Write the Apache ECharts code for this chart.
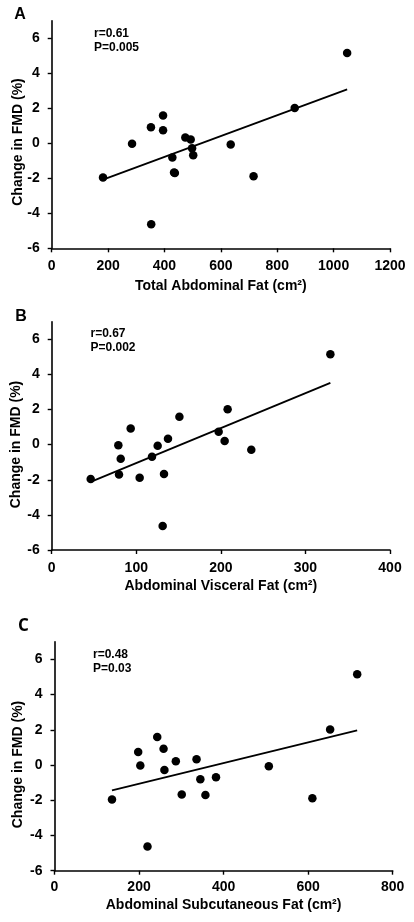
<!DOCTYPE html>
<html>
<head>
<meta charset="utf-8">
<script src="https://cdn.jsdelivr.net/npm/echarts@6/dist/echarts.min.js"></script>
<style>
html,body{margin:0;padding:0;background:#fff;}
#chart{width:414px;height:922px;}
</style>
</head>
<body>
<div id="chart"></div>
<script>
// Change in FMD (%) per subject (same subjects in all three panels)
const fmdChange = [5.15, 2.02, 1.59, 0.92, 0.74, 0.33, 0.21, -0.03, -0.07, -0.29, -0.69, -0.81, -1.70, -1.67, -1.89, -1.96, -4.63];
// Panel A: Total abdominal fat (cm2)
const totalFat = [1048, 862, 395, 352, 395, 474, 493, 285, 635, 498, 502, 428, 437, 434, 716, 182, 353];
// Panel B: Abdominal visceral fat (cm2)
const visceralFat = [329.5, 208, 151, 93.4, 197.4, 137.5, 204.5, 78.8, 125.3, 236, 118.6, 81.6, 79.6, 132.8, 104, 46.1, 131.2];
// Panel C: Abdominal subcutaneous fat (cm2)
const subcutFat = [716, 652, 243, 258, 198, 336, 287, 203, 507, 260, 382, 345, 357, 301, 610, 136, 220];

// Fitted regression line end points
const trendAx = [182, 1048], trendAy = [-2.08, 3.08];
const trendBx = [46.1, 329.5], trendBy = [-2.12, 3.52];
const trendCx = [136, 716], trendCy = [-1.44, 1.97];

const yTicks = [-6, -4, -2, 0, 2, 4, 6];
const xTicksA = [0, 200, 400, 600, 800, 1000, 1200];
const xTicksB = [0, 100, 200, 300, 400];
const xTicksC = [0, 200, 400, 600, 800];

const panelLabels = ['A', 'B', 'C'];
const statsText = [['r=0.61', 'P=0.005'], ['r=0.67', 'P=0.002'], ['r=0.48', 'P=0.03']];
const xTitles = ['Total Abdominal Fat (cm²)', 'Abdominal Visceral Fat (cm²)', 'Abdominal Subcutaneous Fat (cm²)'];
const yTitle = 'Change in FMD (%)';

const FONT = "'Liberation Sans', Arial, sans-serif";
const BLACK = '#000';

function pairs(xs, ys) { return xs.map((x, i) => [x, ys[i]]); }
const plain = v => String(v);

const grids = [
  {left: 51.7, top: 20.7, width: 338.3, height: 227.6},
  {left: 51.7, top: 321.7, width: 338.3, height: 228.3},
  {left: 54.5, top: 641.7, width: 338.2, height: 229}
];
const xCfg = [
  {max: 1200, interval: 200, ticks: xTicksA, nameGap: 30.5, margin: 11},
  {max: 400, interval: 100, ticks: xTicksB, nameGap: 29, margin: 11},
  {max: 800, interval: 200, ticks: xTicksC, nameGap: 27.5, margin: 9}
];

const xAxis = xCfg.map((c, i) => ({
  gridIndex: i, type: 'value', min: 0, max: c.max, interval: c.interval,
  name: xTitles[i], nameLocation: 'middle', nameGap: c.nameGap,
  nameTextStyle: {fontFamily: FONT, fontWeight: 'bold', fontSize: 14, color: BLACK},
  axisLine: {show: true, onZero: false, lineStyle: {color: BLACK, width: 1.6}},
  axisTick: {show: true, length: 4, lineStyle: {color: BLACK, width: 1.4}, customValues: c.ticks},
  axisLabel: {fontFamily: FONT, fontWeight: 'bold', fontSize: 14, color: BLACK, margin: c.margin, customValues: c.ticks, formatter: plain},
  splitLine: {show: false}
}));

const yAxis = [0, 1, 2].map(i => ({
  gridIndex: i, type: 'value', min: -6, max: 7, interval: 2,
  axisLine: {show: true, onZero: false, lineStyle: {color: BLACK, width: 1.6}},
  axisTick: {show: true, length: 4, lineStyle: {color: BLACK, width: 1.4}, customValues: yTicks},
  axisLabel: {fontFamily: FONT, fontWeight: 'bold', fontSize: 14, color: BLACK, margin: 12, customValues: yTicks, formatter: plain},
  splitLine: {show: false}
}));

const xData = [totalFat, visceralFat, subcutFat];
const trends = [[trendAx, trendAy], [trendBx, trendBy], [trendCx, trendCy]];
const series = [];
for (let i = 0; i < 3; i++) {
  series.push({
    type: 'line', xAxisIndex: i, yAxisIndex: i, data: pairs(trends[i][0], trends[i][1]),
    symbol: 'none', lineStyle: {color: BLACK, width: 1.8}, silent: true, z: 2
  });
  series.push({
    type: 'scatter', xAxisIndex: i, yAxisIndex: i, data: pairs(xData[i], fmdChange),
    symbol: 'circle', symbolSize: 8.5, itemStyle: {color: BLACK, opacity: 1}, z: 3
  });
}

// text positions
const letterPos = [[20, 14.5], [21, 316.5], [23.5, 626]];
const statPos = [[94, 34], [90.5, 334], [93, 655]];
const yTitlePos = [[18.5, 142], [16, 444.5], [18.5, 764.5]];
const graphic = [];
for (let i = 0; i < 3; i++) {
  graphic.push({
    type: 'text', x: letterPos[i][0], y: letterPos[i][1],
    style: {text: panelLabels[i], fill: BLACK, font: (i === 2 ? "bold 17px 'Open Sans', 'Liberation Sans', sans-serif" : "bold 16px " + FONT),
      textAlign: 'center', textVerticalAlign: 'middle', align: 'center', verticalAlign: 'middle'}
  });
  graphic.push({
    type: 'text', x: statPos[i][0], y: statPos[i][1],
    style: {text: statsText[i][0], fill: BLACK, font: "bold 12px " + FONT,
      textAlign: 'left', textVerticalAlign: 'middle', align: 'left', verticalAlign: 'middle'}
  });
  graphic.push({
    type: 'text', x: statPos[i][0], y: statPos[i][1] + 13.5,
    style: {text: statsText[i][1], fill: BLACK, font: "bold 12px " + FONT,
      textAlign: 'left', textVerticalAlign: 'middle', align: 'left', verticalAlign: 'middle'}
  });
  graphic.push({
    type: 'text', x: yTitlePos[i][0], y: yTitlePos[i][1], rotation: Math.PI / 2,
    style: {text: yTitle, fill: BLACK, font: "bold 14px " + FONT,
      textAlign: 'center', textVerticalAlign: 'middle', align: 'center', verticalAlign: 'middle'}
  });
}

const chart = echarts.init(document.getElementById('chart'), null, {renderer: 'canvas'});
chart.setOption({
  backgroundColor: '#fff',
  animation: false,
  grid: grids,
  xAxis: xAxis,
  yAxis: yAxis,
  series: series,
  graphic: graphic
});
</script>
</body>
</html>
